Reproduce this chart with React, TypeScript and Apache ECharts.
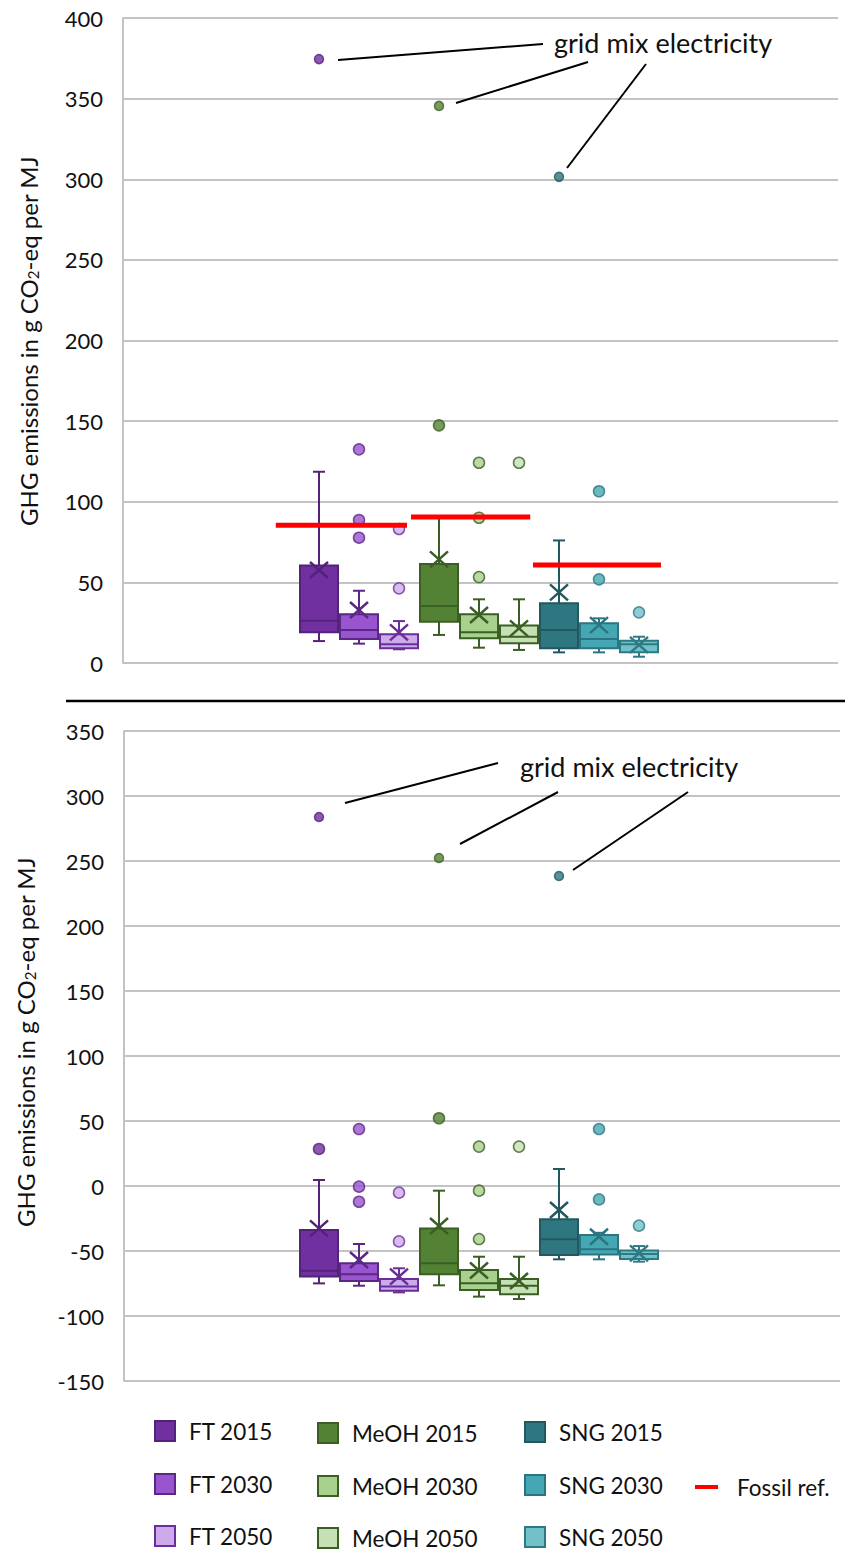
import React, { useEffect, useRef } from 'react';
import * as echarts from 'echarts';

// ---------- DATA ----------
const categories = ['FT 2015', 'FT 2030', 'FT 2050', 'MeOH 2015', 'MeOH 2030', 'MeOH 2050', 'SNG 2015', 'SNG 2030', 'SNG 2050'];

// upper panel
const topMin = [13.6, 12.0, 8.5, 17.4, 9.5, 8.1, 6.6, 6.6, 3.9];
const topQ1 = [19.0, 14.9, 9.1, 25.6, 15.3, 12.2, 9.1, 9.1, 6.6];
const topMedian = [26.2, 20.5, 11.6, 35.3, 19.0, 16.3, 20.5, 14.9, 11.6];
const topQ3 = [60.4, 30.2, 17.8, 61.4, 30.2, 23.2, 37.0, 24.6, 13.8];
const topMax = [118.6, 44.8, 26.0, 90.0, 39.5, 39.5, 76.0, 27.7, 16.3];
const topMean = [57.7, 32.9, 19.0, 64.3, 29.8, 21.5, 43.8, 23.5, 11.2];
const topOutlierCat = [1, 1, 1, 2, 2, 3, 4, 4, 4, 5, 7, 7, 8];
const topOutlierVal = [132.5, 88.7, 77.7, 83.1, 46.3, 147.4, 124.2, 90.1, 53.3, 124.2, 106.5, 51.9, 31.4];
const topGridMixCat = [0, 3, 6];
const topGridMixVal = [374.5, 345.5, 301.5];
const fossilNames = ['FT', 'MeOH', 'SNG'];
const fossilRef = [85.5, 90.5, 60.8];
const fossilFrom = [-1.08, 2.3, 5.35];
const fossilTo = [2.2, 5.28, 8.55];

// lower panel
const botMin = [-74.9, -76.7, -81.8, -76.4, -85.1, -86.9, -56.4, -56.4, -58.2];
const botQ1 = [-69.7, -73.1, -80.5, -67.9, -80.0, -83.3, -53.1, -52.6, -56.2];
const botMedian = [-65.1, -67.9, -77.4, -59.5, -74.9, -76.7, -41.0, -48.7, -52.3];
const botQ3 = [-33.8, -59.5, -71.5, -32.6, -64.6, -71.5, -25.6, -37.7, -49.7];
const botMax = [4.6, -44.6, -63.3, -3.6, -54.4, -54.4, 13.1, -36.0, -46.2];
const botMean = [-32.6, -56.9, -69.7, -30.8, -65.0, -73.1, -18.5, -39.0, -51.8];
const botOutlierCat = [0, 1, 1, 1, 2, 2, 3, 4, 4, 4, 5, 7, 7, 8];
const botOutlierVal = [28.5, 43.8, -0.5, -12.1, -5.1, -42.6, 52.1, 30.3, -3.6, -40.8, 30.3, 43.8, -10.3, -30.5];
const botGridMixCat = [0, 3, 6];
const botGridMixVal = [283.8, 252.3, 238.5];

const topTicks = { min: 0, max: 400, interval: 50 };
const botTicks = { min: -150, max: 350, interval: 50 };

// ---------- STYLE ----------
const FILLS = ['#7030A0', '#9954D0', '#CDABEB', '#548235', '#A9D18E', '#C5E0B4', '#2E7780', '#45A7B4', '#72C0C8'];
const BORDERS = ['#53237A', '#5A2785', '#6A2E9A', '#3B5E24', '#3B5E24', '#3B5E24', '#22585F', '#2A7580', '#2E7A84'];
const FONT = 'Lato, "Source Sans Pro", sans-serif';
const GRID_COLOR = '#C3C3C3';

function boxData(mn: number[], q1: number[], md: number[], q3: number[], mx: number[], mean: number[]) {
  return categories.map((_, i) => [i, mn[i], q1[i], md[i], q3[i], mx[i], mean[i]]);
}

function renderBox(params: any, api: any) {
  const i = api.value(0);
  const x = api.coord([i, api.value(1)])[0];
  const yMin = api.coord([i, api.value(1)])[1];
  const yQ1 = api.coord([i, api.value(2)])[1];
  const yMed = api.coord([i, api.value(3)])[1];
  const yQ3 = api.coord([i, api.value(4)])[1];
  const yMax = api.coord([i, api.value(5)])[1];
  const yMean = api.coord([i, api.value(6)])[1];
  const bw = api.size([1, 0])[0] * 0.95;
  const fill = FILLS[i];
  const stroke = BORDERS[i];
  const cap = 6;
  const mxw = 9;
  const mxh = 8;
  const ls = { stroke, lineWidth: 2 };
  return {
    type: 'group',
    children: [
      { type: 'line', shape: { x1: x, y1: yMin, x2: x, y2: yQ1 }, style: ls },
      { type: 'line', shape: { x1: x, y1: yQ3, x2: x, y2: yMax }, style: ls },
      { type: 'line', shape: { x1: x - cap, y1: yMin, x2: x + cap, y2: yMin }, style: ls },
      { type: 'line', shape: { x1: x - cap, y1: yMax, x2: x + cap, y2: yMax }, style: ls },
      { type: 'rect', shape: { x: x - bw / 2, y: yQ3, width: bw, height: yQ1 - yQ3 }, style: { fill, stroke, lineWidth: 2 } },
      { type: 'line', shape: { x1: x - bw / 2, y1: yMed, x2: x + bw / 2, y2: yMed }, style: ls },
      { type: 'line', shape: { x1: x - mxw, y1: yMean - mxh, x2: x + mxw, y2: yMean + mxh }, style: { stroke, lineWidth: 2.5 } },
      { type: 'line', shape: { x1: x - mxw, y1: yMean + mxh, x2: x + mxw, y2: yMean - mxh }, style: { stroke, lineWidth: 2.5 } },
    ],
  };
}

function renderFossil(params: any, api: any) {
  const p1 = api.coord([api.value(0), api.value(2)]);
  const p2 = api.coord([api.value(1), api.value(2)]);
  return {
    type: 'line',
    shape: { x1: p1[0], y1: p1[1], x2: p2[0], y2: p2[1] },
    style: { stroke: '#FF0000', lineWidth: 5 },
  };
}

function dots(cats: number[], vals: number[]) {
  return cats.map((c, k) => ({
    value: [c, vals[k]],
    itemStyle: { color: FILLS[c], borderColor: BORDERS[c], borderWidth: 1.5 },
  }));
}

function yAxisDef(gridIndex: number, t: { min: number; max: number; interval: number }) {
  return {
    type: 'value',
    gridIndex,
    min: t.min,
    max: t.max,
    interval: t.interval,
    axisLine: { show: true, onZero: false, lineStyle: { color: GRID_COLOR, width: 2 } },
    axisTick: { show: false },
    axisLabel: { fontFamily: FONT, fontSize: 22, color: '#111', margin: 20 },
    splitLine: { show: true, lineStyle: { color: GRID_COLOR, width: 2 } },
  };
}

function txt(text: string, x: number, y: number, size: number, extra: any = {}) {
  return {
    type: 'text',
    x,
    y,
    z: 100,
    style: {
      text,
      fontFamily: FONT,
      fontSize: size,
      fill: '#111',
      align: 'left',
      verticalAlign: 'middle',
      textAlign: 'left',
      textVerticalAlign: 'middle',
      ...extra,
    },
  };
}

function ln(x1: number, y1: number, x2: number, y2: number, w = 2) {
  return { type: 'line', z: 100, shape: { x1, y1, x2, y2 }, style: { stroke: '#000', lineWidth: w } };
}

const legendCols = [
  { sq: 155, tx: 189, dy: 0 },
  { sq: 318, tx: 352, dy: 2 },
  { sq: 525, tx: 559, dy: 1 },
];
const legendRows = [1431, 1484, 1536];

export default function App() {
  const ref = useRef<HTMLDivElement>(null);
  useEffect(() => {
    document.body.style.margin = '0';
    if (!ref.current) return;
    const chart = echarts.init(ref.current, undefined, { renderer: 'svg' });

    const legendEls: any[] = [];
    categories.forEach((name, i) => {
      const col = legendCols[Math.floor(i / 3)];
      const y = legendRows[i % 3] + col.dy;
      legendEls.push({
        type: 'rect',
        z: 100,
        shape: { x: col.sq, y: y - 10, width: 20, height: 20 },
        style: { fill: FILLS[i], stroke: BORDERS[i], lineWidth: 2 },
      });
      legendEls.push(txt(name, col.tx, y, 22.5));
    });
    legendEls.push({ type: 'rect', z: 100, shape: { x: 695, y: 1485, width: 23, height: 4 }, style: { fill: '#FF0000' } });
    legendEls.push(txt('Fossil ref.', 737, 1487, 22.5));

    const axisTitleRich = {
      sub: { fontFamily: FONT, fontSize: 15, verticalAlign: 'bottom', fill: '#111', padding: [6, 0, 0, 0] },
    };
    const axisTitle = 'GHG emissions in g CO{sub|2}-eq per MJ';

    const option: any = {
      animation: false,
      backgroundColor: '#fff',
      grid: [
        { left: 123, right: 7, top: 18, height: 645 },
        { left: 124, right: 5, top: 731, height: 650 },
      ],
      xAxis: [
        { type: 'value', gridIndex: 0, min: -4.9, max: 12.975, show: false, splitLine: { show: false } },
        { type: 'value', gridIndex: 1, min: -4.875, max: 13.025, show: false, splitLine: { show: false } },
      ],
      yAxis: [yAxisDef(0, topTicks), yAxisDef(1, botTicks)],
      series: [
        {
          type: 'custom',
          name: 'boxes-top',
          xAxisIndex: 0,
          yAxisIndex: 0,
          renderItem: renderBox,
          encode: { x: 0, y: [1, 2, 3, 4, 5] },
          data: boxData(topMin, topQ1, topMedian, topQ3, topMax, topMean),
          z: 2,
        },
        {
          type: 'scatter',
          xAxisIndex: 0,
          yAxisIndex: 0,
          symbolSize: 11,
          data: dots(topOutlierCat, topOutlierVal),
          z: 3,
        },
        {
          type: 'scatter',
          xAxisIndex: 0,
          yAxisIndex: 0,
          symbolSize: 9,
          data: dots(topGridMixCat, topGridMixVal),
          z: 3,
        },
        {
          type: 'custom',
          name: 'Fossil ref.',
          xAxisIndex: 0,
          yAxisIndex: 0,
          renderItem: renderFossil,
          encode: { x: [0, 1], y: 2 },
          data: fossilNames.map((_, k) => [fossilFrom[k], fossilTo[k], fossilRef[k]]),
          z: 4,
        },
        {
          type: 'custom',
          name: 'boxes-bottom',
          xAxisIndex: 1,
          yAxisIndex: 1,
          renderItem: renderBox,
          encode: { x: 0, y: [1, 2, 3, 4, 5] },
          data: boxData(botMin, botQ1, botMedian, botQ3, botMax, botMean),
          z: 2,
        },
        {
          type: 'scatter',
          xAxisIndex: 1,
          yAxisIndex: 1,
          symbolSize: 11,
          data: dots(botOutlierCat, botOutlierVal),
          z: 3,
        },
        {
          type: 'scatter',
          xAxisIndex: 1,
          yAxisIndex: 1,
          symbolSize: 9,
          data: dots(botGridMixCat, botGridMixVal),
          z: 3,
        },
      ],
      graphic: {
        elements: [
          // axis titles
          {
            type: 'text', x: 28, y: 341, rotation: Math.PI / 2, z: 100,
            style: { text: axisTitle, fontFamily: FONT, fontSize: 24, fill: '#111', align: 'center', verticalAlign: 'middle', textAlign: 'center', textVerticalAlign: 'middle', rich: axisTitleRich },
          },
          {
            type: 'text', x: 25, y: 1042, rotation: Math.PI / 2, z: 100,
            style: { text: axisTitle, fontFamily: FONT, fontSize: 24, fill: '#111', align: 'center', verticalAlign: 'middle', textAlign: 'center', textVerticalAlign: 'middle', rich: axisTitleRich },
          },
          // separator
          ln(66, 701, 845, 701, 2.5),
          // annotations top
          txt('grid mix electricity', 554, 42, 27),
          ln(338, 60, 543, 44),
          ln(456, 103, 588, 62),
          ln(567, 168, 646, 64),
          // annotations bottom
          txt('grid mix electricity', 520, 766, 27),
          ln(345, 803, 498, 763),
          ln(460, 844, 558, 792),
          ln(573, 870, 688, 792),
          ...legendEls,
        ],
      },
    };
    chart.setOption(option);
    return () => chart.dispose();
  }, []);
  return <div ref={ref} style={{ width: 845, height: 1551 }} />;
}
